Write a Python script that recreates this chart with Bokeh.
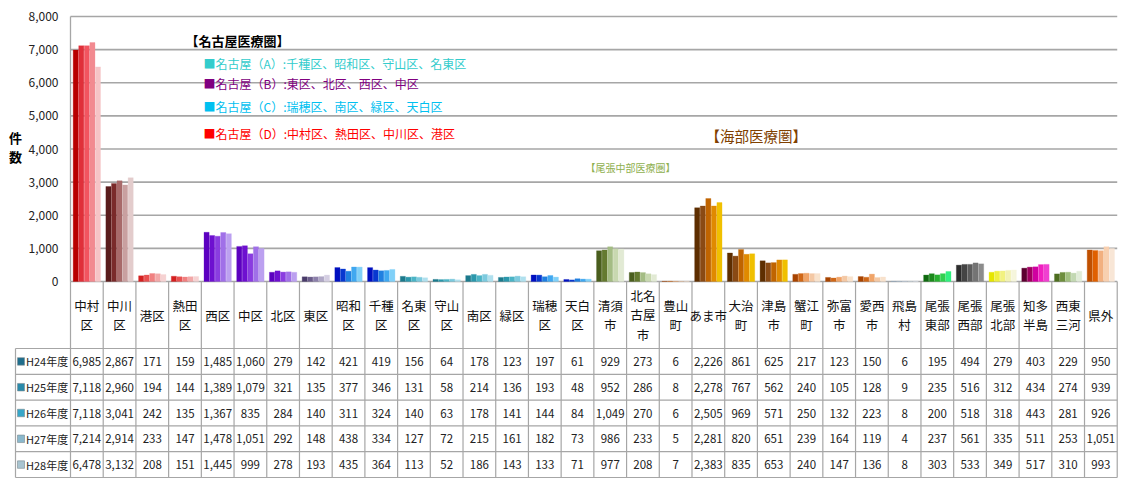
from bokeh.plotting import figure
from bokeh.models import ColumnDataSource, Range1d
from bokeh.core.properties import value
from bokeh.embed import file_html
from bokeh.resources import INLINE

# ---- data -------------------------------------------------------------
areas = ["中村区", "中川区", "港区", "熱田区", "西区", "中区", "北区", "東区",
         "昭和区", "千種区", "名東区", "守山区", "南区", "緑区", "瑞穂区", "天白区",
         "清須市", "北名古屋市", "豊山町", "あま市", "大治町", "津島市", "蟹江町",
         "弥富市", "愛西市", "飛島村", "尾張東部", "尾張西部", "尾張北部",
         "知多半島", "西東三河", "県外"]
header_labels = ["中村\n区", "中川\n区", "港区", "熱田\n区", "西区", "中区", "北区", "東区",
                 "昭和\n区", "千種\n区", "名東\n区", "守山\n区", "南区", "緑区", "瑞穂\n区",
                 "天白\n区", "清須\n市", "北名\n古屋\n市", "豊山\n町", "あま市", "大治\n町",
                 "津島\n市", "蟹江\n町", "弥富\n市", "愛西\n市", "飛島\n村", "尾張\n東部",
                 "尾張\n西部", "尾張\n北部", "知多\n半島", "西東\n三河", "県外"]
years = ["H24年度", "H25年度", "H26年度", "H27年度", "H28年度"]
y_ticks = [0, 1000, 2000, 3000, 4000, 5000, 6000, 7000, 8000]

h24 = [6985, 2867, 171, 159, 1485, 1060, 279, 142, 421, 419, 156, 64, 178, 123, 197, 61,
       929, 273, 6, 2226, 861, 625, 217, 123, 150, 6, 195, 494, 279, 403, 229, 950]
h25 = [7118, 2960, 194, 144, 1389, 1079, 321, 135, 377, 346, 131, 58, 214, 136, 193, 48,
       952, 286, 8, 2278, 767, 562, 240, 105, 128, 9, 235, 516, 312, 434, 274, 939]
h26 = [7118, 3041, 242, 135, 1367, 835, 284, 140, 311, 324, 140, 63, 178, 141, 144, 84,
       1049, 270, 6, 2505, 969, 571, 250, 132, 223, 8, 200, 518, 318, 443, 281, 926]
h27 = [7214, 2914, 233, 147, 1478, 1051, 292, 148, 438, 334, 127, 72, 215, 161, 182, 73,
       986, 233, 5, 2281, 820, 651, 239, 164, 119, 4, 237, 561, 335, 511, 253, 1051]
h28 = [6478, 3132, 208, 151, 1445, 999, 278, 193, 435, 364, 113, 52, 186, 143, 133, 71,
       977, 208, 7, 2383, 835, 653, 240, 147, 136, 8, 303, 533, 349, 517, 310, 993]
series = [h24, h25, h26, h27, h28]

# ---- colour ramps (dark = oldest year, light = newest) ------------------
red_d = ["#b80000", "#e0303a", "#f25560", "#f28a90", "#f6c4c6"]
maroon = ["#5a1c1c", "#7a2a2a", "#a86a6a", "#c9a0a0", "#e3cccc"]
red_l = ["#d42020", "#e85050", "#f08080", "#f2a8a8", "#f6d2d2"]
violet = ["#5c00c0", "#6e10d0", "#8a3ce0", "#a070e8", "#bca0f0"]
slate = ["#4a3c6a", "#6a5c8a", "#8c80aa", "#b0a8c6", "#d4cee2"]
blue = ["#0010c0", "#0838d0", "#2080e0", "#40a8f0", "#80d0f8"]
teal = ["#1c7a8c", "#2c98ac", "#4cb4c6", "#7ccade", "#b0e0ee"]
olive = ["#4a5e1e", "#647a30", "#a4bc84", "#c8d8b0", "#e2ead4"]
amber = ["#5e2e00", "#8a4a14", "#c06400", "#e08a00", "#f0c000"]
peach = ["#a84400", "#d06818", "#f0a468", "#f4c8a4", "#f8e2cc"]
ice = ["#90a8c0", "#a8bcd0", "#c0d0e0", "#d0dce8", "#e0e8f0"]
green = ["#106a10", "#1c8a1c", "#28b030", "#30d050", "#30f080"]
gray = ["#2c2c2c", "#444444", "#5c5c5c", "#747474", "#8c8c8c"]
yellow = ["#e6e600", "#f0f040", "#f2f280", "#f2f2b4", "#f6f6dc"]
magenta = ["#5c0030", "#a00060", "#d000a0", "#f020c0", "#f040d0"]
sage = ["#4e6e20", "#6e8e3e", "#a2c080", "#c2d8b2", "#e0ecd8"]
orange = ["#c05000", "#e06000", "#f2b080", "#f8d0b0", "#f8e6d6"]
ramps = [red_d, maroon, red_l, red_l, violet, violet, violet, slate,
         blue, blue, teal, teal, teal, teal, blue, blue,
         olive, olive, peach, amber, amber, amber, peach,
         peach, peach, ice, green, gray, yellow,
         magenta, sage, orange]
key_colors = ["#1f6e8c", "#2a8aaa", "#36a6c8", "#8ab8cc", "#a8c4d0"]

FONT = value("Noto Sans CJK JP")
GRID = "#a6a6a6"
TXT = "#222222"
n = len(areas)
BAR_W = 0.17

# ---- geometry: x in category units, y in counts (chart) / rows (table) --
W, H = 1123, 481
PLOT_L = 70            # left edge of the category area, px
CAT_PX = 32.71         # width of one category, px
ZERO_PX = 281          # baseline, px from top
PER_PX = 8000 / 265    # counts per px
ROW_TOP = 348          # top of the first table row, px
ROW_PX = 25.8          # table row height, px
LABEL_X = -55 / CAT_PX  # left edge of the row-label column

p = figure(width=W, height=H, output_backend="svg", toolbar_location=None,
           x_range=Range1d(-PLOT_L / CAT_PX, (W - PLOT_L) / CAT_PX),
           y_range=Range1d(-(H - ZERO_PX) * PER_PX, ZERO_PX * PER_PX),
           x_axis_location=None, y_axis_location=None,
           min_border_left=0, min_border_right=0, min_border_top=0,
           min_border_bottom=0)
p.extra_y_ranges = {"tbl": Range1d((H - ROW_TOP) / ROW_PX, -ROW_TOP / ROW_PX)}
p.outline_line_color = None
p.xgrid.visible = False
p.ygrid.visible = False
p.background_fill_color = "white"
p.border_fill_color = "white"

# value axis: grid lines, axis line and tick labels
p.segment(x0=[0] * len(y_ticks), y0=y_ticks, x1=[n] * len(y_ticks), y1=y_ticks,
          line_color=GRID, line_width=1.6)
p.segment(x0=[0], y0=[0], x1=[0], y1=[y_ticks[-1]], line_color=GRID, line_width=1.3)
p.text(x=[-12 / CAT_PX] * len(y_ticks), y=y_ticks, text=[f"{t:,}" for t in y_ticks],
       text_font=FONT, text_font_size="12px", text_align="right",
       text_baseline="middle", text_color=TXT)
p.text(x=[-55 / CAT_PX], y=[135 * PER_PX], text=["件\n数"], text_font=FONT,
       text_font_size="13px", text_font_style="bold", text_align="center",
       text_baseline="middle", text_line_height=1.0, text_color="#000000")

# bars: five fiscal years side by side in every area
for j, vals in enumerate(series):
    src = ColumnDataSource(dict(
        x=[i + 0.5 + (j - 2) * BAR_W for i in range(n)],
        top=vals,
        color=[r[j] for r in ramps],
    ))
    p.vbar(x="x", top="top", width=BAR_W * 0.92, bottom=0, source=src,
           fill_color="color", line_color="color", line_alpha=0.6, line_width=0.5)

# region captions
p.text(x=[(185 - PLOT_L) / CAT_PX], y=[7276], text=["【名古屋医療圏】"], text_font=FONT,
       text_font_size="13px", text_font_style="bold", text_color="#000000",
       text_baseline="middle")
captions = ["■名古屋（A）:千種区、昭和区、守山区、名東区",
            "■名古屋（B）:東区、北区、西区、中区",
            "■名古屋（C）:瑞穂区、南区、緑区、天白区",
            "■名古屋（D）:中村区、熱田区、中川区、港区"]
cap_y = [6581, 5977, 5283, 4468]
cap_colors = ["#33cccc", "#800080", "#00c0f0", "#ff0000"]
p.text(x=[(203 - PLOT_L) / CAT_PX] * 4, y=cap_y, text=captions, text_font=FONT,
       text_font_size="12px", text_color=cap_colors, text_baseline="middle")
p.text(x=[(705 - PLOT_L) / CAT_PX], y=[4408], text=["【海部医療圏】"], text_font=FONT,
       text_font_size="14.5px", text_color="#804000", text_baseline="middle")
p.text(x=[(585 - PLOT_L) / CAT_PX], y=[3442], text=["【尾張中部医療圏】"], text_font=FONT,
       text_font_size="10px", text_color="#8fb050", text_baseline="middle")

# ---- data table -----------------------------------------------------
head_top = (ZERO_PX - ROW_TOP) / ROW_PX
nrows = len(years)
bounds_x = list(range(n + 1))
p.segment(x0=bounds_x, y0=[head_top] * len(bounds_x), x1=bounds_x,
          y1=[nrows] * len(bounds_x), line_color=GRID, line_width=1.2,
          y_range_name="tbl")
p.segment(x0=[LABEL_X], y0=[0], x1=[LABEL_X], y1=[nrows], line_color=GRID,
          line_width=1.2, y_range_name="tbl")
rows = list(range(nrows + 1))
p.segment(x0=[LABEL_X] * len(rows), y0=rows, x1=[n] * len(rows), y1=rows,
          line_color=GRID, line_width=1.2, y_range_name="tbl")

p.text(x=[i + 0.5 for i in range(n)], y=[head_top / 2] * n, text=header_labels,
       text_font=FONT, text_font_size="12.5px", text_align="center",
       text_baseline="middle", text_line_height=1.05, text_color="#111111",
       y_range_name="tbl")

cell_x, cell_y, cell_t = [], [], []
for r, vals in enumerate(series):
    for i, v in enumerate(vals):
        cell_x.append(i + 0.5)
        cell_y.append(r + 0.5)
        cell_t.append(f"{v:,}")
p.text(x=cell_x, y=cell_y, text=cell_t, text_font=FONT, text_font_size="11.5px",
       text_align="center", text_baseline="middle", text_color=TXT,
       y_range_name="tbl")

ry = [r + 0.5 for r in range(nrows)]
p.rect(x=[LABEL_X + 5.5 / CAT_PX] * nrows, y=ry, width=7 / CAT_PX, height=7.5 / ROW_PX,
       fill_color=key_colors, line_color="#7a8a90", line_width=0.6, y_range_name="tbl")
p.text(x=[LABEL_X + 10.5 / CAT_PX] * nrows, y=ry, text=years, text_font=FONT,
       text_font_size="11px", text_baseline="middle", text_color=TXT,
       y_range_name="tbl")

open("out.html", "w").write(file_html(p, INLINE))
